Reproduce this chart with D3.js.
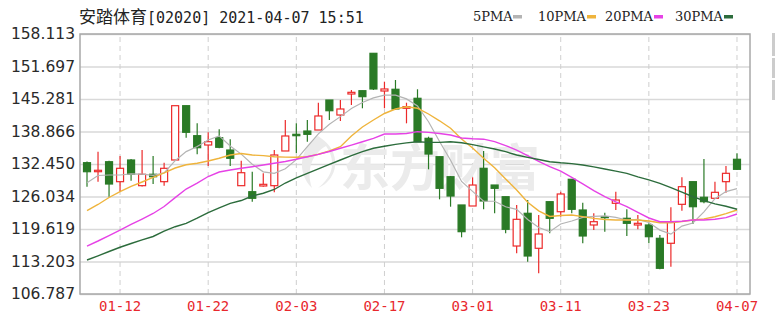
<!DOCTYPE html>
<html>
<head>
<meta charset="utf-8">
<script src="https://cdn.jsdelivr.net/npm/d3@7"></script>
<style>
  body { margin: 0; background: #fff; }
  svg { display: block; }
</style>
</head>
<body>
<div id="chart"></div>
<script>
// trading days shown (MM-DD)
var dates = ["01-07","01-08","01-11","01-12","01-13","01-14","01-15","01-18","01-19","01-20",
             "01-21","01-22","01-25","01-26","01-27","01-28","01-29","02-01","02-02","02-03",
             "02-04","02-05","02-08","02-09","02-10","02-11","02-16","02-17","02-18","02-19",
             "02-22","02-23","02-24","02-25","02-26","03-01","03-02","03-03","03-04","03-05",
             "03-08","03-09","03-10","03-11","03-12","03-15","03-16","03-17","03-18","03-19",
             "03-22","03-23","03-24","03-25","03-26","03-29","03-30","03-31","04-01","04-07"];

var openP  = [132.71,130.93,132.90,128.96,133.24,128.17,130.42,128.96,133.24,143.96,
              138.04,136.20,137.64,135.21,128.17,126.98,128.11,128.17,135.02,138.31,
              138.96,139.16,145.08,142.12,146.27,146.92,154.30,146.86,147.20,143.45,
              145.42,137.52,133.89,129.94,124.36,124.16,131.60,128.30,125.99,116.26,
              122.72,115.81,125.01,123.03,129.43,123.37,120.41,122.05,124.69,121.73,
              120.41,120.41,117.78,116.80,124.49,128.96,125.88,125.68,128.96,133.38];
var highP  = [132.94,134.88,133.10,134.03,133.44,135.21,134.03,132.71,143.96,143.96,
              140.48,138.71,139.30,137.33,133.10,130.93,130.61,135.21,141.14,140.48,
              141.14,144.55,145.08,145.08,147.06,146.92,154.30,148.70,149.03,144.55,
              147.20,137.84,133.89,130.08,124.36,129.82,135.02,128.30,125.99,124.36,
              125.34,122.38,125.01,126.98,129.43,124.81,122.72,122.84,126.98,123.51,
              122.38,120.74,118.43,123.90,129.82,128.96,133.44,128.96,132.06,134.56];
var lowP   = [127.97,128.96,125.99,126.98,129.15,128.01,128.50,128.17,133.24,137.64,
              134.37,132.06,135.55,132.06,128.17,125.01,127.97,126.86,135.02,134.56,
              136.85,139.16,141.14,140.94,144.10,143.45,147.06,143.45,143.11,140.48,
              136.85,131.40,125.48,124.02,117.98,124.16,123.51,122.72,118.77,114.82,
              113.16,110.87,118.77,122.05,122.72,116.80,119.42,119.09,123.37,118.24,
              119.56,116.80,111.66,112.18,123.23,120.61,124.69,125.68,126.78,131.27];
var closeP = [130.93,131.21,128.50,131.60,130.42,130.42,129.94,131.60,143.96,138.71,
              135.67,136.85,135.75,133.58,130.73,125.68,128.44,134.23,137.98,138.04,
              138.31,141.93,142.97,143.31,146.60,145.74,147.26,147.26,143.31,143.76,
              136.85,134.42,127.65,126.13,119.09,128.30,125.15,127.65,119.56,121.53,
              114.29,118.63,121.73,126.53,123.51,118.24,121.06,121.85,125.34,120.74,
              120.74,118.10,111.86,121.06,127.97,124.02,125.01,126.86,130.61,131.40];

// moving averages
var ma5  = [128.76,130.18,130.28,130.28,130.50,130.45,130.20,130.70,133.10,134.90,
            135.90,137.20,138.00,136.00,134.40,132.40,130.90,130.60,131.50,133.30,
            135.90,138.40,140.30,141.80,143.40,144.60,145.50,146.05,146.05,145.30,
            143.90,140.80,136.90,133.20,129.00,127.05,125.10,125.10,124.00,123.50,
            121.50,119.90,119.10,120.60,121.20,121.90,122.10,122.20,121.90,121.40,
            121.50,120.90,119.40,118.60,120.20,120.80,123.00,125.60,127.00,127.60];
var ma10 = [123.23,124.46,125.84,127.00,128.05,128.90,129.79,130.69,131.66,132.29,
            132.59,133.04,133.58,134.23,134.52,134.23,134.11,133.89,133.81,133.79,
            133.89,134.37,135.02,135.87,137.98,139.75,141.14,142.42,143.31,143.74,
            143.45,142.32,140.98,139.50,137.40,135.60,133.60,131.70,129.50,127.30,
            124.90,123.20,122.10,122.28,122.38,122.07,121.71,121.49,121.40,121.40,
            121.40,121.20,120.86,120.86,121.10,121.40,121.61,122.03,122.66,123.37];
var ma20 = [116.26,117.25,118.33,119.42,120.51,121.59,122.68,124.06,125.82,127.51,
            128.66,129.98,130.87,131.27,131.62,131.92,132.25,132.61,132.94,133.38,
            133.89,134.35,134.92,135.55,136.18,136.85,137.52,138.37,138.37,138.47,
            138.83,138.69,138.47,138.18,137.58,137.44,137.35,136.87,136.08,135.21,
            134.09,132.96,131.92,131.03,129.82,128.54,127.20,126.03,124.97,124.02,
            122.88,121.79,121.06,121.06,121.16,121.40,121.40,121.55,121.87,122.58];
var ma30 = [113.50,114.33,115.18,116.01,116.76,117.47,118.14,119.20,120.07,120.74,
            121.75,122.86,123.80,124.69,125.24,126.13,126.67,127.42,128.70,129.71,
            130.61,131.50,132.39,133.24,134.09,134.88,135.55,135.96,136.32,136.62,
            136.85,136.71,136.71,136.85,136.64,136.28,135.83,135.41,134.88,134.23,
            133.77,133.34,132.90,132.69,132.53,132.25,131.88,131.46,131.05,130.61,
            129.92,129.31,128.64,127.79,126.90,125.99,125.23,124.57,124.10,123.51];

var yTicks = [106.787,113.203,119.619,126.034,132.450,138.866,145.281,151.697,158.113];
var xTicks = ["01-12","01-22","02-03","02-17","03-01","03-11","03-23","04-07"];
var maNames = ["5PMA","10PMA","20PMA","30PMA"];

var W = 775, H = 321;
var plot = {left: 80, right: 750, top: 34, bottom: 294};
var upColor = "#ec2a2a", downColor = "#2a7a26";
var maColors = ["#b4b4b4", "#efb43c", "#e642e6", "#2c6c3c"];

var svg = d3.select("#chart").append("svg")
    .attr("width", W).attr("height", H);

var x = d3.scaleBand().domain(dates).range([81.5, 742.5]);
var y = d3.scaleLinear().domain([yTicks[0], yTicks[yTicks.length - 1]]).range([plot.bottom, plot.top]);
var cx = function(d) { return x(d) + x.bandwidth() / 2; };

// horizontal grid + y labels
var yAxis = svg.append("g")
    .attr("transform", "translate(" + plot.left + ",0)")
    .call(d3.axisLeft(y).tickValues(yTicks).tickFormat(d3.format(".3f"))
        .tickSize(-(plot.right - plot.left)).tickPadding(5));
yAxis.select(".domain").remove();
yAxis.selectAll("line").attr("stroke", "#d9d9d9").attr("stroke-width", 1.5);
yAxis.selectAll("text")
    .attr("fill", "#2a2a2a")
    .style("font-family", "'DejaVu Sans', sans-serif")
    .style("font-size", "15.5px");

// vertical dashed grid + date labels
var xAxis = svg.append("g")
    .attr("transform", "translate(0," + plot.bottom + ")")
    .call(d3.axisBottom(x).tickValues(xTicks)
        .tickSize(-(plot.bottom - plot.top)).tickPadding(7));
xAxis.select(".domain").remove();
xAxis.selectAll("line").attr("stroke", "#cfcfcf").attr("stroke-dasharray", "5,4");
xAxis.selectAll("text")
    .attr("fill", "#e8282d")
    .style("font-family", "'DejaVu Sans Mono', monospace")
    .style("font-size", "14px");

// watermark
var wm = svg.append("g").attr("fill", "#ebebeb");
wm.append("path")
    .attr("d", "M318,136 C300,148 296,172 312,188 C306,170 312,154 326,146 C336,160 334,176 318,188 C338,180 344,152 318,136 Z");
wm.append("text")
    .attr("x", 340).attr("y", 186)
    .style("font-family", "'Noto Sans CJK SC', sans-serif")
    .style("font-size", "50px").style("font-weight", "bold")
    .text("东方财富");

// plot border
svg.append("rect")
    .attr("x", plot.left).attr("y", plot.top)
    .attr("width", plot.right - plot.left).attr("height", plot.bottom - plot.top)
    .attr("fill", "none").attr("stroke", "#a8a8a8").attr("stroke-width", 1.5);

// candles
var idx = d3.range(dates.length);
var candles = svg.append("g").selectAll("g").data(idx).enter().append("g");
candles.append("line")
    .attr("x1", function(i) { return cx(dates[i]); })
    .attr("x2", function(i) { return cx(dates[i]); })
    .attr("y1", function(i) { return y(highP[i]); })
    .attr("y2", function(i) { return y(lowP[i]); })
    .attr("stroke", function(i) { return closeP[i] >= openP[i] ? upColor : downColor; })
    .attr("stroke-width", 1.2);
candles.append("rect")
    .attr("x", function(i) { return cx(dates[i]) - 3.5; })
    .attr("width", 7)
    .attr("y", function(i) { return y(Math.max(openP[i], closeP[i])); })
    .attr("height", function(i) { return Math.max(1, Math.abs(y(openP[i]) - y(closeP[i]))); })
    .attr("fill", function(i) { return closeP[i] >= openP[i] ? "#fff" : downColor; })
    .attr("stroke", function(i) { return closeP[i] >= openP[i] ? upColor : downColor; })
    .attr("stroke-width", 1.2);

// moving average lines
var line = d3.line()
    .x(function(d, i) { return cx(dates[i]); })
    .y(function(d) { return y(d); });
[ma5, ma10, ma20, ma30].forEach(function(s, k) {
    svg.append("path")
        .datum(s)
        .attr("d", line)
        .attr("fill", "none")
        .attr("stroke", maColors[k])
        .attr("stroke-width", k == 0 ? 1.2 : 1.4);
});

// title
var title = svg.append("text").attr("x", 79).attr("y", 23).attr("fill", "#222");
title.append("tspan")
    .style("font-family", "'Noto Sans CJK SC', sans-serif").style("font-size", "17px")
    .text("安踏体育");
title.append("tspan")
    .style("font-family", "'DejaVu Sans Mono', monospace").style("font-size", "15px")
    .text("[02020] 2021-04-07 15:51");

// legend
var legX = [473, 538, 605, 675];
var legend = svg.append("g").selectAll("g").data(maNames).enter().append("g")
    .attr("transform", function(d, i) { return "translate(" + legX[i] + ",0)"; });
legend.append("text")
    .attr("x", 0).attr("y", 21)
    .attr("fill", "#222")
    .style("font-family", "'DejaVu Serif', serif")
    .style("font-size", "13px")
    .text(function(d) { return d; });
legend.append("rect")
    .attr("x", function(d) { return d.length == 4 ? 40 : 49; })
    .attr("y", 15).attr("width", 9).attr("height", 3.5)
    .attr("fill", function(d, i) { return maColors[i]; });

// cut-off markers at the right edge
svg.append("g").selectAll("rect").data([[33, 56], [58, 78], [80, 100]]).enter().append("rect")
    .attr("x", 772).attr("width", 3)
    .attr("y", function(d) { return d[0]; })
    .attr("height", function(d) { return d[1] - d[0]; })
    .attr("fill", "#cccccc");
</script>
</body>
</html>
